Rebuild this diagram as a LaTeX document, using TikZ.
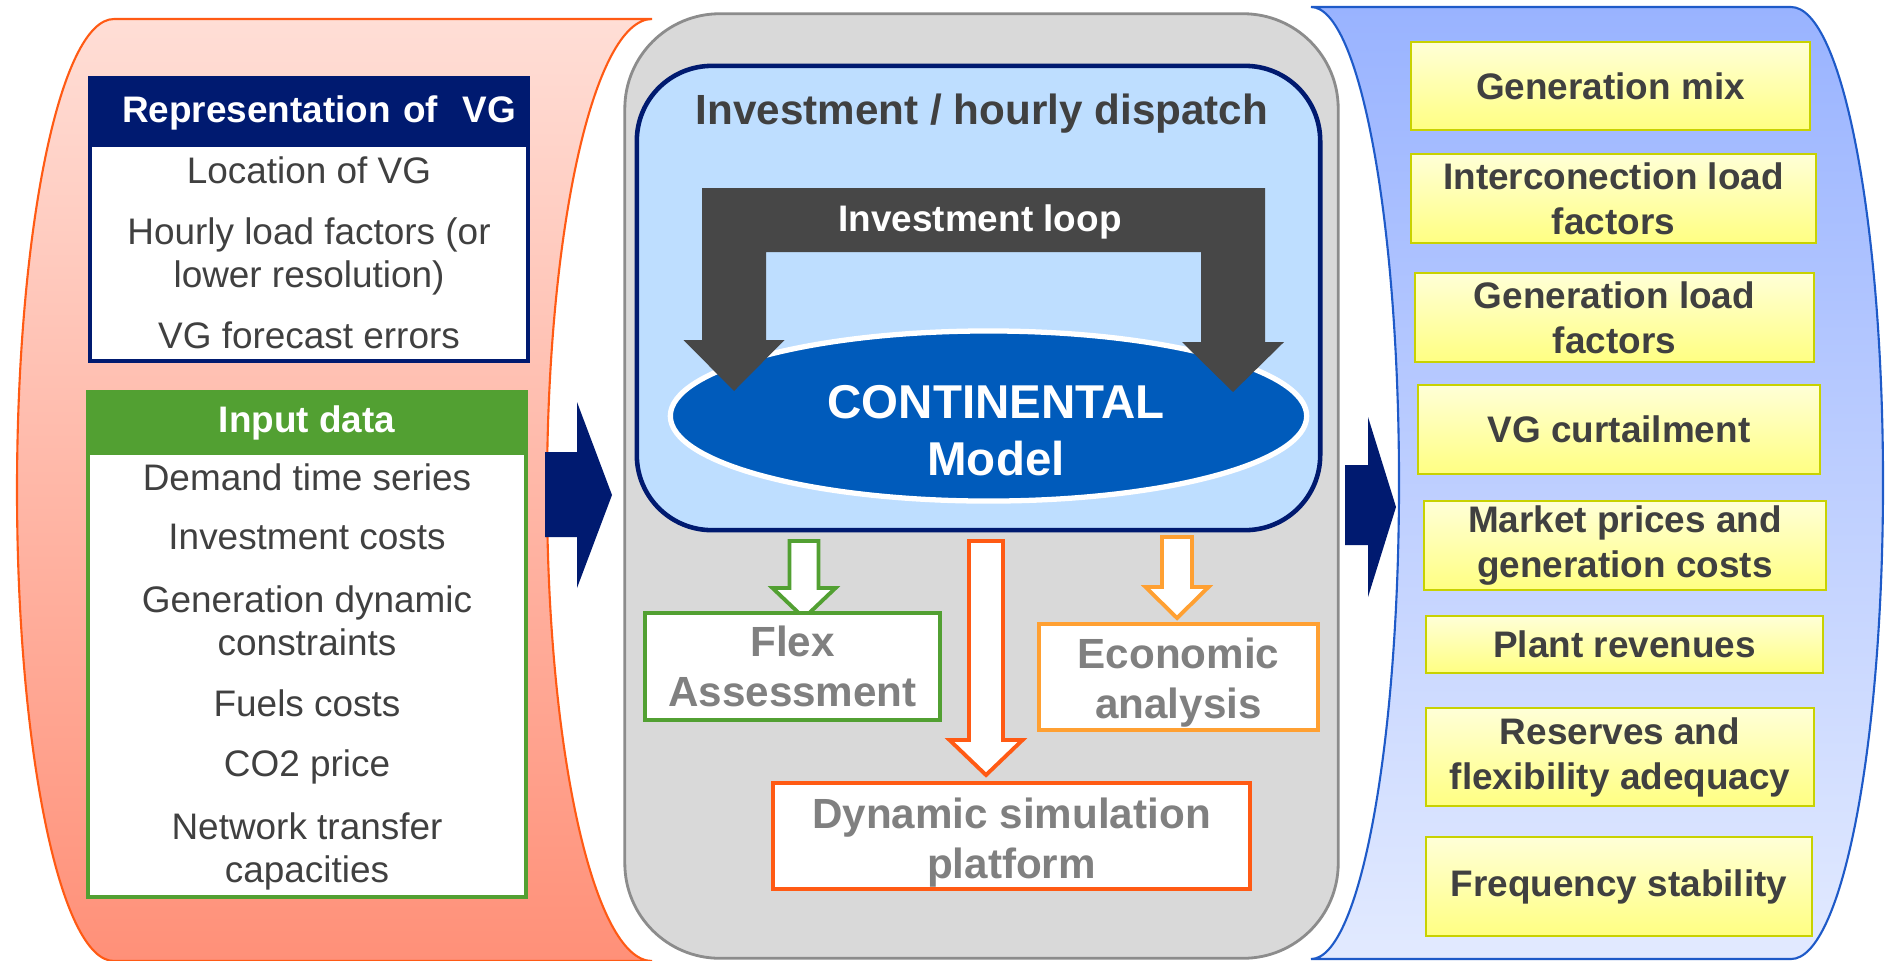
\documentclass[tikz,border=0pt]{standalone}
\usepackage{fontspec}
\setmainfont{Liberation Sans}
\usetikzlibrary{shapes.geometric}

\definecolor{navy}{RGB}{0,26,112}
\definecolor{leafgreen}{RGB}{82,160,50}
\definecolor{darktext}{RGB}{64,64,64}
\definecolor{greytext}{RGB}{128,128,128}
\definecolor{panelgrey}{RGB}{217,217,217}
\definecolor{panelline}{RGB}{140,140,140}
\definecolor{skyblue}{RGB}{190,222,255}
\definecolor{modelblue}{RGB}{0,91,187}
\definecolor{loopgrey}{RGB}{71,71,71}
\definecolor{redorange}{RGB}{255,90,20}
\definecolor{lightorange}{RGB}{255,160,50}
\definecolor{pinktop}{RGB}{255,222,214}
\definecolor{pinkbot}{RGB}{255,144,120}
\definecolor{bluetop}{RGB}{153,179,255}
\definecolor{bluebot}{RGB}{226,234,255}
\definecolor{bandblue}{RGB}{30,90,200}
\definecolor{lemontop}{RGB}{255,255,215}
\definecolor{lemonbot}{RGB}{255,255,130}
\definecolor{lemonline}{RGB}{200,210,0}

\begin{document}
\begin{tikzpicture}
[x=0.01cm, y=-0.01cm,
 body/.style={font=\fontsize{10.5}{12.2}\selectfont, text=darktext, align=center},
 listbox/.style={draw=#1, line width=1.2pt, fill=white,
                 minimum width=4.38cm, inner sep=0pt},
 headbox/.style={fill=#1, minimum width=4.38cm, inner sep=0pt, text=white,
                 font=\bfseries\fontsize{10.5}{12.2}\selectfont},
 result/.style={draw=lemonline, line width=0.7pt, top color=lemontop,
                bottom color=lemonbot, text=darktext, align=center, inner sep=0pt,
                font=\bfseries\fontsize{10.5}{12.8}\selectfont},
 tool/.style={draw=#1, line width=1.2pt, fill=white, text=greytext,
              font=\bfseries\fontsize{12}{14.2}\selectfont, align=center,
              inner sep=0pt, minimum height=1.06cm},
 hollow/.style={draw=#1, line width=1.1pt, fill=white, line join=miter}]
\useasboundingbox (0,0) rectangle (1892,960);

% input band
\draw[draw=redorange, line width=0.6pt, top color=pinktop, bottom color=pinkbot]
  (114,19) -- (652,19) arc[start angle=270, end angle=90, x radius=105, y radius=471]
  -- (114,961) arc[start angle=90, end angle=270, x radius=97, y radius=471] -- cycle;
% output band
\draw[draw=bandblue, line width=0.6pt, top color=bluetop, bottom color=bluebot]
  (1311,7) -- (1791,7) arc[start angle=270, end angle=450, x radius=92, y radius=476]
  -- (1311,959) arc[start angle=90, end angle=-90, x radius=88, y radius=476] -- cycle;

% model panel
\node[draw=panelline, line width=0.8pt, fill=panelgrey, rounded corners=0.95cm,
      minimum width=7.13cm, minimum height=9.44cm] (panel) at (981.5,486) {};
\node[draw=navy, line width=1.3pt, fill=skyblue, rounded corners=0.75cm,
      minimum width=6.83cm, minimum height=4.64cm] (dispatch) at (978.5,298) {};
\node[text=darktext, font=\bfseries\fontsize{12}{14}\selectfont]
  (dispatchtitle) at (982,114) {Investment / hourly dispatch};
\node[ellipse, draw=white, line width=1.5pt, fill=modelblue, inner sep=0pt,
      minimum width=6.36cm, minimum height=1.70cm] (model) at (988.5,416) {};
\node[text=white, font=\bfseries\fontsize{13.5}{16.2}\selectfont, align=center]
  (modeltext) at (996,431) {CONTINENTAL\\Model};
% investment loop
\fill[loopgrey] (702,188) -- (1265,188) -- (1265,342) -- (1284,342) -- (1233,392)
  -- (1182,342) -- (1201,342) -- (1201,252) -- (766,252) -- (766,340)
  -- (784.5,340) -- (734,391) -- (683.5,340) -- (702,340) -- cycle;
\node[text=white, font=\bfseries\fontsize{10.5}{12.2}\selectfont]
  (looptext) at (980,222) {Investment loop};

% tools fed by the model
\draw[hollow=leafgreen] (789.5,541) -- (818.5,541) -- (818.5,588) -- (835.5,588)
  -- (804,618) -- (772.5,588) -- (789.5,588) -- cycle;
\draw[hollow=redorange] (969,541) -- (1003,541) -- (1003,740) -- (1022.5,740)
  -- (986,775) -- (949.5,740) -- (969,740) -- cycle;
\draw[hollow=lightorange] (1162,537) -- (1192,537) -- (1192,587) -- (1208.5,587)
  -- (1177,618) -- (1145.5,587) -- (1162,587) -- cycle;
\node[tool=leafgreen, minimum width=2.95cm, minimum height=1.07cm]
  (flex) at (792.5,666.5) {Flex\\Assessment};
\node[tool=lightorange, minimum width=2.79cm]
  (econ) at (1178.5,677) {\rule{0pt}{0.41cm}Economic\\analysis};
\node[tool=redorange, minimum width=4.77cm]
  (dynsim) at (1011.5,836) {\rule{0pt}{0.43cm}Dynamic simulation\\platform};

% VG representation
\node[listbox=navy, minimum height=2.83cm] (vgbox) at (309,219.5) {};
\node[headbox=navy, minimum height=0.69cm, text width=4.14cm, inner xsep=0.12cm,
      align=right] (vghead) at (309,112.5) {Representation of~~VG};
\node[body] (vgloc) at (309,170) {Location of VG};
\node[body] (vgload) at (309,256) {Hourly load factors (or\\lower resolution)};
\node[body] (vgerr) at (309,335) {VG forecast errors};

% input data
\node[listbox=leafgreen, minimum height=5.05cm] (inbox) at (307,644.5) {};
\node[headbox=leafgreen, minimum height=0.63cm] (inhead) at (307,423.5)
  {\raisebox{0.08cm}{Input data}};
\node[body] (demand) at (307,477) {Demand time series};
\node[body] (invcost) at (307,537) {Investment costs};
\node[body] (gendyn) at (307,621) {Generation dynamic\\constraints};
\node[body] (fuel) at (307,703) {Fuels costs};
\node[body] (co2) at (307,767) {CO2 price};
\node[body] (ntc) at (307,851) {Network transfer\\capacities};

% flow arrows
\fill[navy] (545,452) -- (577,452) -- (577,402) -- (612,495) -- (577,588)
  -- (577,537) -- (545,537) -- cycle;
\fill[navy] (1345,465) -- (1368,465) -- (1368,417) -- (1396,507) -- (1368,597)
  -- (1368,545) -- (1345,545) -- cycle;

% results
\node[result, minimum width=3.99cm, minimum height=0.88cm]
  (genmix) at (1610.5,86) {Generation mix};
\node[result, minimum width=4.05cm, minimum height=0.89cm]
  (iclf) at (1613.5,198.5) {Interconection load\\factors};
\node[result, minimum width=3.99cm, minimum height=0.89cm]
  (genlf) at (1614.5,317.5) {Generation load\\factors};
\node[result, minimum width=4.02cm, minimum height=0.89cm]
  (curt) at (1619,429.5) {VG curtailment};
\node[result, minimum width=4.02cm, minimum height=0.89cm]
  (prices) at (1625,545.5) {Market prices and\\generation costs};
\node[result, minimum width=3.97cm, minimum height=0.57cm]
  (revenue) at (1624.5,644.5) {Plant revenues};
\node[result, minimum width=3.88cm, minimum height=0.98cm]
  (reserve) at (1620,757) {Reserves and\\flexibility adequacy};
\node[result, minimum width=3.86cm, minimum height=0.99cm]
  (freq) at (1619,886.5) {Frequency stability};
\end{tikzpicture}
\end{document}
